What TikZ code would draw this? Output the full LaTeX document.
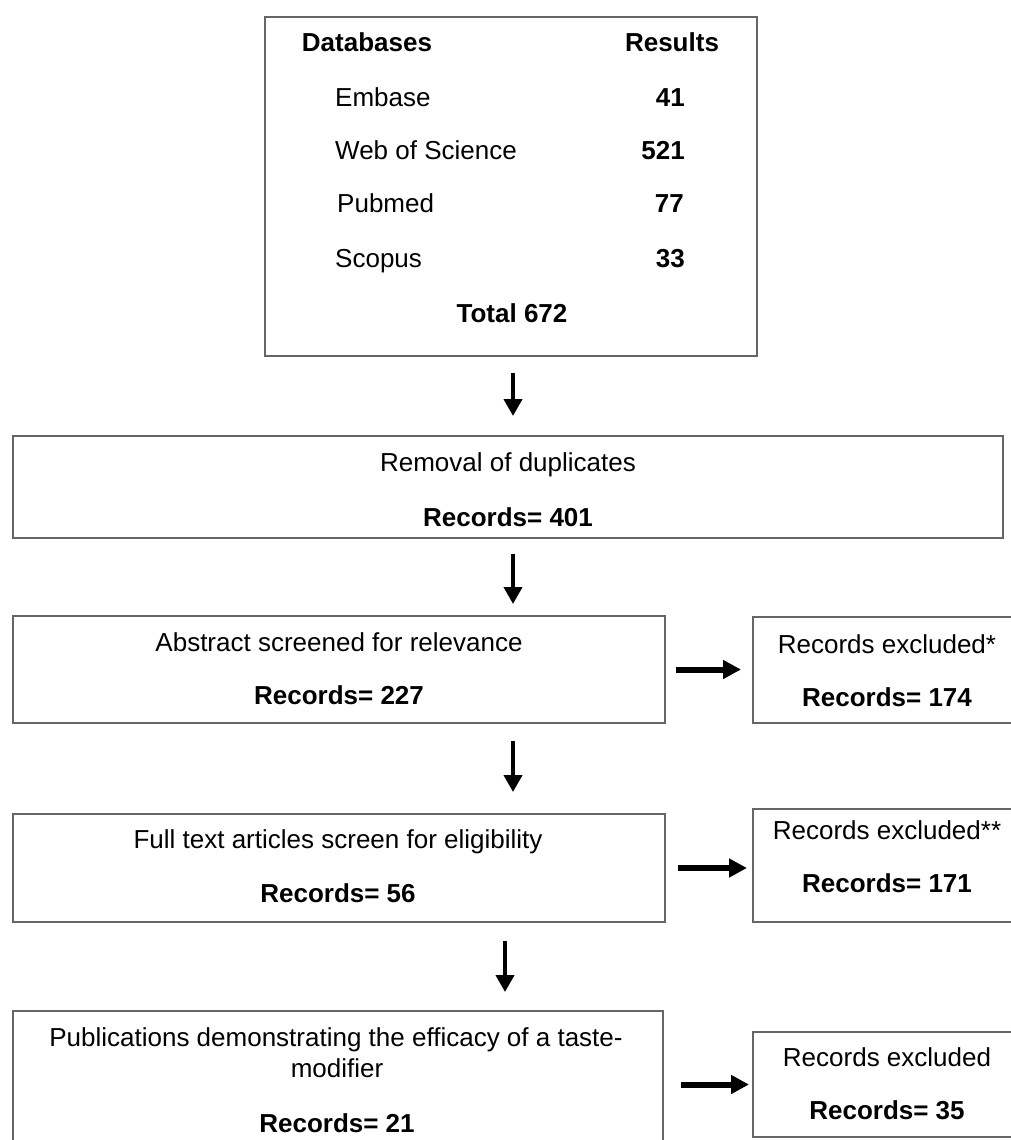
\documentclass[tikz,border=0pt]{standalone}
\usepackage{fontspec}
\setmainfont{Liberation Sans}
\usetikzlibrary{arrows.meta}
\tikzset{
	box/.style={draw=black!60, line width=2pt, inner sep=0pt},
	txt/.style={inner sep=0pt, font=\fontsize{26}{31}\selectfont, text height=19pt, text depth=0pt},
	hdr/.style={txt, font=\fontsize{26}{31}\selectfont\bfseries},
	downarr/.style={line width=4pt, -{Triangle[length=17pt,width=18pt]}},
	sidearr/.style={line width=6pt, -{Triangle[length=18pt,width=18pt]}}
}

\begin{document}
\begin{tikzpicture}[x=1pt, y=-1pt]
		%%%%% START %%%%%
		\clip (0,0) rectangle (1011,1140);
		
		\coordinate (col) at (513,0);
		\coordinate (col2) at (505,0);
		
		% search results
		\node[box, minimum width=492pt, minimum height=339pt] (db) at (511,186.5) {};
		\node[hdr] (dbhead) at (367,42) {Databases};
		\node[hdr] (reshead) at (672,42) {Results};
		\node[txt, anchor=west] (embase) at (335,97) {Embase};
		\node[hdr, anchor=east] (embasen) at (685,97) {41};
		\node[txt, anchor=west] (wos) at (335,150) {Web of Science};
		\node[hdr, anchor=east] (wosn) at (685,150) {521};
		\node[txt, anchor=west] (pubmed) at (337,203) {Pubmed};
		\node[hdr, anchor=east] (pubmedn) at (684,203) {77};
		\node[txt, anchor=west] (scopus) at (335,258) {Scopus};
		\node[hdr, anchor=east] (scopusn) at (685,258) {33};
		\node[hdr] (total) at (512,313) {Total 672};
		
		% duplicates
		\node[box, minimum width=990pt, minimum height=102pt] (dedup) at (508,487) {};
		\node[txt] (deduptxt) at (508,462) {Removal of duplicates};
		\node[hdr] (dedupn) at (508,517) {Records= 401};
		
		% abstracts
		\node[box, minimum width=652pt, minimum height=107pt] (abs) at (339,669.5) {};
		\node[txt] (abstxt) at (339,642) {Abstract screened for relevance};
		\node[hdr] (absn) at (339,695) {Records= 227};
		\node[box, minimum width=268pt, minimum height=106pt] (exclA) at (887,670) {};
		\node[txt] (exclAtxt) at (887,644) {Records excluded*};
		\node[hdr] (exclAn) at (887,697) {Records= 174};
		
		% full texts
		\node[box, minimum width=652pt, minimum height=108pt] (full) at (339,868) {};
		\node[txt] (fulltxt) at (338,839) {Full text articles screen for eligibility};
		\node[hdr] (fulln) at (338,893) {Records= 56};
		\node[box, minimum width=268pt, minimum height=113pt] (exclB) at (887,865.5) {};
		\node[txt] (exclBtxt) at (887,830) {Records excluded**};
		\node[hdr] (exclBn) at (887,883) {Records= 171};
		
		% publications
		\node[box, minimum width=650pt, minimum height=140pt] (pub) at (338,1081) {};
		\node[txt] (pubtxt) at (336,1037) {Publications demonstrating the efficacy of a taste-};
		\node[txt] (pubtxtb) at (337,1068) {modifier};
		\node[hdr] (pubn) at (337,1123) {Records= 21};
		\node[box, minimum width=268pt, minimum height=105pt] (exclC) at (887,1084.5) {};
		\node[txt] (exclCtxt) at (887,1057) {Records excluded};
		\node[hdr] (exclCn) at (887,1110) {Records= 35};
		
		% arrows
		\draw[downarr, shorten <=16pt, shorten >=19pt] (col |- db.south) -- (col |- dedup.north);
		\draw[downarr, shorten <=15pt, shorten >=11pt] (col |- dedup.south) -- (col |- abs.north);
		\draw[downarr, shorten <=17pt, shorten >=21pt] (col |- abs.south) -- (col |- full.north);
		\draw[downarr, shorten <=18pt, shorten >=18pt] (col2 |- full.south) -- (col2 |- pub.north);
		
		\draw[sidearr, shorten <=10pt, shorten >=11pt] (abs.east) -- (abs.east -| exclA.west);
		\draw[sidearr, shorten <=12pt, shorten >=5pt] (full.east) -- (full.east -| exclB.west);
		\draw[sidearr, shorten <=17pt, shorten >=3pt] (exclC.west -| pub.east) -- (exclC.west);
		
		%%%%% END %%%%%
	\end{tikzpicture}
\end{document}
